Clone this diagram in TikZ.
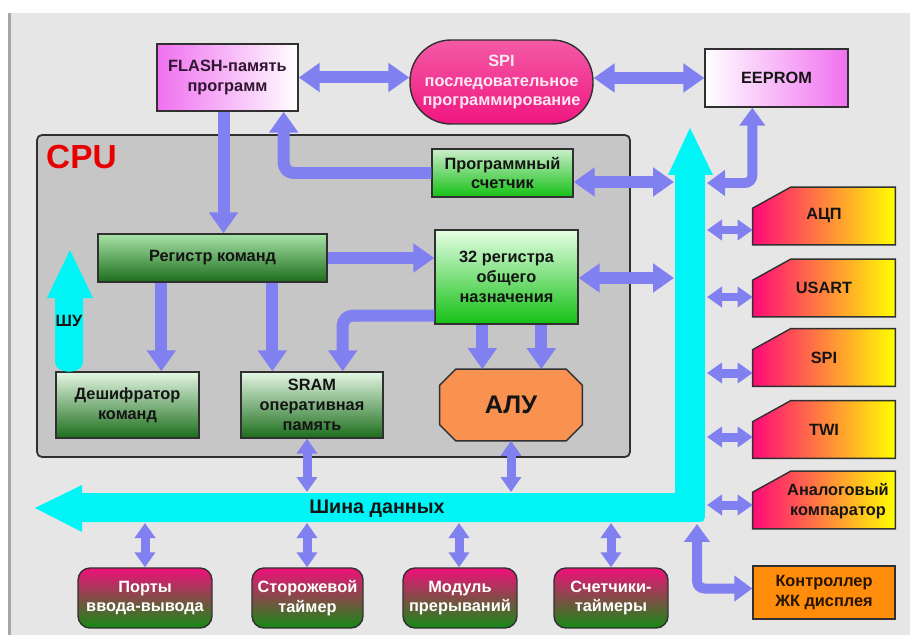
\documentclass[tikz,border=0pt]{standalone}
\usepackage{fontspec}
\setmainfont{Liberation Sans}
\usetikzlibrary{arrows.meta,calc}
\definecolor{bgc}{HTML}{E6E6E6}
\definecolor{cpuc}{HTML}{C6C6C6}
\definecolor{arc}{HTML}{8080F0}
\definecolor{busc}{HTML}{00F6F6}
\definecolor{edge}{HTML}{303030}
\definecolor{mag}{HTML}{F070F0}
\definecolor{pink}{HTML}{F01680}
\definecolor{pinklight}{HTML}{F45AA6}
\definecolor{gtop}{HTML}{E4F6E4}
\definecolor{gdark}{HTML}{1C6E1C}
\definecolor{gregtop}{HTML}{A8E2A8}
\definecolor{gbright}{HTML}{14C014}
\definecolor{btop}{HTML}{F0107A}
\definecolor{bbot}{HTML}{148A14}
\definecolor{pleft}{HTML}{FF0A78}
\definecolor{pright}{HTML}{FFFF00}
\definecolor{aluc}{HTML}{F99150}
\definecolor{lcdc}{HTML}{FF8C0A}
\definecolor{txtdark}{HTML}{141414}
\definecolor{cpured}{HTML}{E80000}
\begin{document}
\begin{tikzpicture}[x=0.02cm,y=-0.02cm,
  font=\fontsize{9.3}{11.3}\selectfont\bfseries,
  box/.style={draw=edge, line width=0.8pt, align=center, inner sep=0pt, text=txtdark},
  greenbox/.style={box, top color=gtop, bottom color=gdark},
  brightbox/.style={box, top color=#1, bottom color=gbright},
  botbox/.style={box, rounded corners=0.24cm, top color=btop, bottom color=bbot, text=white,
    minimum height=1.2cm, anchor=center},
  perinode/.style={inner sep=0pt, minimum width=2.84cm, align=center, text=txtdark},
  arrb/.style={draw=arc, line width=0.24cm, -{Triangle[width=0.56cm,length=0.42cm]}},
  arrbd/.style={draw=arc, line width=0.24cm, {Triangle[width=0.56cm,length=0.42cm]}-{Triangle[width=0.56cm,length=0.42cm]}},
  arrm/.style={draw=arc, line width=0.2cm, {Triangle[width=0.5cm,length=0.36cm]}-{Triangle[width=0.5cm,length=0.36cm]}},
  arrs/.style={draw=arc, line width=0.18cm, {Triangle[width=0.4cm,length=0.3cm]}-{Triangle[width=0.4cm,length=0.3cm]}}
]
\useasboundingbox (0,0) rectangle (910,635);
% background
\fill[white] (0,0) rectangle (910,635);
\fill[bgc] (10,13) rectangle (910,635);
\fill[black!35] (8,13) rectangle (11,635);

% CPU block
\filldraw[fill=cpuc, draw=edge, line width=1pt, rounded corners=0.1cm] (37,135) rectangle (630,457);
\node[text=cpured, font=\fontsize{19}{21}\selectfont\bfseries, anchor=west] (cpu) at (40,157) {CPU};

% top nodes
\node[box, left color=mag, right color=white, minimum width=2.82cm, minimum height=1.34cm, text=black!80!mag] (flash) at (227.5,77.5) {FLASH-память\\программ};
\node[box, top color=pinklight, bottom color=pink, rounded corners=0.82cm, minimum width=3.66cm, minimum height=1.68cm, text=white!90!pink] (spi) at (501.5,82) {SPI\\последовательное\\программирование};
\node[box, left color=white, right color=mag, minimum width=2.86cm, minimum height=1.16cm] (eeprom) at (776.5,78) {EEPROM};

% CPU internals
\node[brightbox=gregtop!60!white, minimum width=2.82cm, minimum height=0.96cm] (pc) at (502.5,173) {Программный\\счетчик};
\node[box, top color=gregtop, bottom color=gdark, minimum width=4.58cm, minimum height=0.96cm] (reg) at (212.5,258) {Регистр команд};
\node[brightbox=white!90!green, minimum width=2.86cm, minimum height=1.88cm] (r32) at (506.5,277) {32 регистра\\общего\\назначения};
\node[greenbox, minimum width=2.86cm, minimum height=1.32cm] (dec) at (127.5,405) {Дешифратор\\команд};
\node[greenbox, minimum width=2.84cm, minimum height=1.32cm] (sram) at (312,405) {SRAM\\оперативная\\память};
\node[inner sep=0pt, minimum width=2.84cm, minimum height=1.42cm] (alu) at (511,405) {};
\filldraw[fill=aluc, draw=edge, line width=0.8pt]
  ($(alu.north west)+(16,0)$) -- ($(alu.north east)+(-16,0)$) -- ($(alu.north east)+(0,16)$)
  -- ($(alu.south east)+(0,-16)$) -- ($(alu.south east)+(-16,0)$) -- ($(alu.south west)+(16,0)$)
  -- ($(alu.south west)+(0,-16)$) -- ($(alu.north west)+(0,16)$) -- cycle;
\node[text=txtdark, font=\fontsize{14.5}{16}\selectfont\bfseries] at (alu.center) {АЛУ};

% data bus
\fill[busc] (675,175) -- (668,175) -- (690,128) -- (713,175) -- (705,175) -- (705,511)
  .. controls (705,522) .. (694,522) -- (82,522) -- (82,532) -- (35,508) -- (82,485) -- (82,493)
  -- (675,493) -- cycle;
\node[text=txtdark, font=\fontsize{11.2}{13}\selectfont\bfseries] (busl) at (377,509) {Шина данных};

% control bus arrow
\fill[busc] (55,298) -- (47,298) -- (70,250) -- (93,298) -- (83,298) -- (83,362)
  .. controls (83,375) and (55,375) .. (55,362) -- cycle;
\node[text=txtdark] (shu) at (69,321) {ШУ};

% peripherals
\foreach \nm/\yc in {adc/216, usart/288, spip/357.5, twi/429.5, cmp/500}{
  \node[perinode, minimum height=1.14cm] (\nm) at (824,\yc) {};
}
\foreach \nm in {adc,usart,spip,twi,cmp}{
  \filldraw[left color=pleft, right color=pright, draw=edge, line width=0.8pt]
    ($(\nm.north west)+(0,21)$) -- ($(\nm.north west)+(38,0)$) -- (\nm.north east)
    -- (\nm.south east) -- (\nm.south west) -- cycle;
}
\foreach \nm/\txt in {adc/АЦП, usart/USART, spip/SPI, twi/TWI}{
  \node[text=txtdark] at (\nm.center) {\txt};
}
\node[text=txtdark, align=center] (cmpt) at (838,501) {Аналоговый\\компаратор};
\node[box, fill=lcdc, minimum width=2.84cm, minimum height=1.06cm, text=black!85!lcdc] (lcd) at (824,592.5) {Контроллер\\ЖК дисплея};

% bottom boxes
\node[botbox, minimum width=2.68cm] (ports) at (145,598) {Порты\\ввода-вывода};
\node[botbox, minimum width=2.22cm] (wdt) at (307.5,598) {Сторожевой\\таймер};
\node[botbox, minimum width=2.28cm] (irq) at (460,598) {Модуль\\прерываний};
\node[botbox, minimum width=2.28cm] (tmr) at (611,598) {Счетчики-\\таймеры};

% bus attach points
\coordinate (bpc) at (674,182);
\coordinate (bee) at (707,183);
\coordinate (b32) at (674,278);
\coordinate (bsram) at (307,492);
\coordinate (balu) at (511,492);
\coordinate (blcd) at (697,524);
\coordinate (bp1) at (707,230);
\coordinate (bp2) at (707,297);
\coordinate (bp3) at (707,373);
\coordinate (bp4) at (707,437);
\coordinate (bp5) at (707,505);
\coordinate (bb1) at (145,523);
\coordinate (bb2) at (307,523);
\coordinate (bb3) at (459,523);
\coordinate (bb4) at (611,523);
% helper attach points on nodes
\coordinate (fls) at ($(flash.south)+(-4,0)$);
\coordinate (flr) at ($(flash.south east)+(-15,0)$);
\coordinate (eeb) at ($(eeprom.south west)+(48,0)$);
\coordinate (rg1) at ($(reg.south west)+(64,0)$);
\coordinate (rg2) at ($(reg.south west)+(175,0)$);
\coordinate (r3l) at ($(r32.south west)+(0,-9)$);
\coordinate (sri) at ($(sram.north east)+(-41,0)$);
\coordinate (r3a) at ($(r32.south west)+(48,0)$);
\coordinate (r3b) at ($(r32.south west)+(107,0)$);
\coordinate (srb) at ($(sram.south)+(-5,0)$);
\coordinate (lcdw) at ($(lcd.west)+(0,-4)$);

% connectors
\draw[arrbd] (flash.east) -- (flash.east -| spi.west);
\draw[arrbd] (spi.east |- eeprom.west) -- (eeprom.west);
\draw[arrb] (fls) -- (fls |- reg.north);
\draw[arrb, rounded corners=0.2cm] (pc.west) -| (flr);
\draw[arrbd] (pc.east |- bpc) -- (bpc);
\draw[arrm, rounded corners=0.15cm] (bee) -| (eeb);
\draw[arrb] (reg.east) -- (reg.east -| r32.west);
\draw[arrb] (rg1) -- (rg1 |- dec.north);
\draw[arrb] (rg2) -- (rg2 |- sram.north);
\draw[arrb, rounded corners=0.2cm] (r3l) -| (sri);
\draw[arrb] (r3a) -- (r3a |- alu.north);
\draw[arrb] (r3b) -- (r3b |- alu.north);
\draw[arrbd] (r32.east |- b32) -- (b32);
\draw[arrs] (srb) -- (bsram);
\draw[arrs] (alu.south) -- (balu);
\draw[arrs] (bb1) -- (bb1 |- ports.north);
\draw[arrs] (bb2) -- (bb2 |- wdt.north);
\draw[arrs] (bb3) -- (bb3 |- irq.north);
\draw[arrs] (bb4) -- (bb4 |- tmr.north);
\draw[arrs] (bp1) -- (bp1 -| adc.west);
\draw[arrs] (bp2) -- (bp2 -| usart.west);
\draw[arrs] (bp3) -- (bp3 -| spip.west);
\draw[arrs] (bp4) -- (bp4 -| twi.west);
\draw[arrs] (bp5) -- (bp5 -| cmp.west);
\draw[arrm, rounded corners=0.15cm] (blcd) |- (lcdw);
\end{tikzpicture}
\end{document}
